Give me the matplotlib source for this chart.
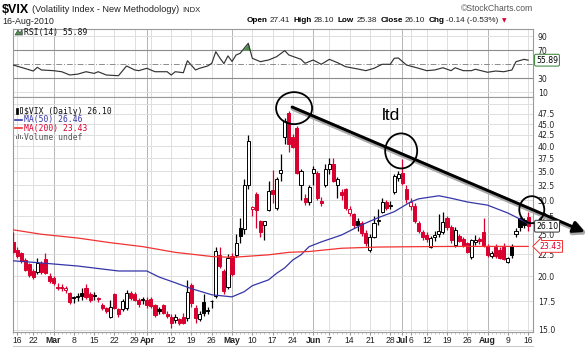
import numpy as np
import pandas as pd
import matplotlib
matplotlib.use("Agg")
import matplotlib.pyplot as plt
from matplotlib.patches import Rectangle, Ellipse, Polygon
from matplotlib.lines import Line2D
from matplotlib import transforms
import matplotlib.patheffects as pe
from matplotlib.ticker import FixedLocator, NullLocator, FixedFormatter, NullFormatter

W, H, DPI = 587, 348, 100

# ---------------- data ----------------
holidays = ["2010-02-15", "2010-04-02", "2010-05-31", "2010-07-05"]
dates = [d for d in pd.bdate_range("2010-02-12", "2010-08-16")
         if d.strftime("%Y-%m-%d") not in holidays]

opens = [24.0, 23.0, 22.6, 21.8, 21.3, 20.6, 20.4, 21.5, 21.9, 20.0,
         19.8, 18.75, 18.9, 18.6, 18.3, 17.9, 18.0, 18.3, 18.8, 18.2,
         18.1, 17.8, 17.1, 16.9, 16.1, 18.2, 16.8, 16.8, 16.9, 18.3,
         18.2, 17.6, 17.7, 17.6, 17.7, 17.1, 16.8, 17.1, 16.3, 16.1,
         15.8, 15.9, 16.1, 16.0, 19.1, 16.9, 15.9, 17.4, 16.7, 17.5,
         18.0, 22.4, 20.6, 18.9, 22.3, 22.4, 25.8, 25.7, 32.6, 28.6,
         31.0, 26.8, 26.3, 28.5, 31.6, 28.7, 34.6, 42.0, 47.7, 42.0,
         44.0, 32.5, 30.4, 29.7, 34.6, 34.6, 29.9, 32.5, 35.5, 36.4,
         32.6, 31.4, 31.9, 28.0, 27.8, 26.9, 26.6, 25.2, 23.0, 24.7,
         26.8, 28.2, 29.7, 29.3, 31.3, 33.8, 34.6, 31.9, 29.0, 29.0,
         26.6, 25.3, 24.9, 23.4, 24.6, 25.0, 25.3, 27.3, 26.0, 23.6,
         24.8, 24.4, 23.8, 22.1, 24.0, 24.4, 25.3, 23.5, 22.3, 23.4,
         23.0, 23.4, 21.6, 23.5, 25.0, 27.2, 27.0, 27.41]
highs = [25.3, 23.4, 22.8, 22.0, 21.4, 20.8, 22.0, 21.7, 22.6, 20.3,
         20.0, 19.3, 19.2, 19.0, 18.4, 18.0, 18.3, 18.8, 19.2, 18.4,
         18.4, 17.9, 17.3, 17.0, 17.6, 18.3, 16.9, 17.7, 18.6, 18.5,
         18.4, 17.8, 17.9, 17.9, 17.9, 17.2, 17.0, 17.2, 16.6, 16.3,
         16.3, 16.0, 16.4, 19.6, 19.3, 17.1, 16.6, 18.2, 17.0, 17.6,
         23.4, 23.3, 20.8, 22.5, 22.6, 25.0, 27.2, 33.5, 42.5, 29.0,
         31.4, 27.0, 26.9, 33.3, 35.3, 33.9, 38.4, 46.5, 48.2, 42.6,
         44.5, 35.5, 31.0, 32.5, 36.0, 35.0, 30.5, 36.4, 37.6, 37.6,
         34.0, 31.8, 32.0, 29.0, 28.0, 27.2, 26.9, 25.6, 25.0, 27.5,
         28.6, 30.3, 30.0, 29.8, 34.5, 35.0, 37.4, 32.5, 30.3, 29.5,
         26.9, 25.6, 25.3, 24.8, 25.4, 27.8, 28.1, 27.5, 26.3, 26.0,
         25.0, 24.6, 24.0, 24.4, 24.9, 24.6, 27.2, 23.7, 22.9, 23.7,
         23.3, 23.8, 22.2, 23.7, 25.8, 27.4, 27.3, 28.10]
lows = [22.6, 22.0, 21.5, 20.5, 19.9, 19.7, 20.2, 20.2, 20.2, 19.3,
        19.1, 18.6, 18.5, 18.3, 17.2, 17.3, 17.5, 17.6, 17.7, 17.4,
        17.6, 17.4, 16.7, 16.4, 16.0, 16.8, 16.1, 16.6, 16.7, 17.6,
        17.5, 17.0, 17.2, 16.9, 16.9, 16.1, 16.3, 16.3, 16.0, 15.2,
        15.6, 15.4, 15.5, 15.7, 17.0, 15.6, 15.7, 16.2, 16.3, 16.9,
        17.8, 20.9, 18.2, 18.7, 20.0, 22.2, 23.9, 25.0, 31.8, 27.5,
        25.8, 24.7, 24.2, 28.3, 29.6, 28.5, 33.3, 40.4, 38.7, 39.6,
        34.5, 30.0, 29.2, 29.2, 32.5, 30.0, 29.0, 32.2, 34.5, 33.0,
        30.4, 30.0, 28.5, 27.6, 25.9, 25.5, 24.8, 23.5, 22.8, 24.5,
        26.2, 28.0, 28.4, 28.6, 31.0, 33.3, 32.5, 29.5, 28.4, 26.5,
        25.2, 24.2, 24.0, 23.2, 24.1, 24.6, 25.0, 25.6, 23.9, 23.4,
        24.0, 23.3, 22.6, 21.9, 23.6, 23.7, 23.4, 22.2, 22.0, 22.0,
        21.9, 21.8, 21.4, 22.0, 24.6, 25.4, 25.8, 25.38]
closes = [22.73, 22.25, 21.7, 20.7, 20.1, 19.95, 21.4, 20.4, 20.35, 19.5,
          19.26, 18.83, 18.8, 18.72, 17.42, 17.79, 17.92, 17.95, 17.85, 17.58,
          18.0, 17.69, 16.91, 16.62, 16.97, 16.87, 16.35, 17.55, 18.3, 17.77,
          17.59, 17.2, 17.59, 17.1, 17.02, 16.23, 16.62, 16.46, 16.14, 15.58,
          16.1, 15.6, 15.55, 18.36, 17.34, 16.0, 16.32, 16.4, 16.62, 17.47,
          22.81, 21.08, 18.44, 22.05, 20.19, 23.84, 24.8, 32.6, 41.2, 28.84,
          28.4, 25.3, 26.8, 31.5, 31.0, 33.6, 35.3, 45.8, 40.4, 39.9,
          34.7, 35.0, 29.7, 32.1, 35.5, 30.3, 29.5, 35.4, 36.4, 33.3,
          33.6, 30.8, 28.8, 28.6, 26.2, 26.3, 25.2, 23.9, 24.7, 26.6,
          27.0, 29.7, 28.7, 29.0, 34.13, 34.54, 32.86, 30.12, 29.65, 26.84,
          25.5, 24.7, 24.43, 24.56, 24.9, 25.5, 26.7, 25.97, 24.2, 25.64,
          24.13, 23.5, 22.73, 24.2, 24.25, 24.13, 23.5, 22.4, 22.63, 22.21,
          22.01, 21.95, 22.0, 22.37, 25.39, 25.97, 26.24, 26.10]
prev_close_before_first = 23.96

ma50_idx = [0, 7, 16, 26, 33, 36, 40, 44, 49, 54, 57, 59, 63, 65, 67, 69,
            71, 73, 76, 81, 86, 90, 94, 98, 100, 105, 108, 112, 117, 122, 125, 127]
ma50_val = [21.7, 21.45, 21.1, 20.55, 20.55, 19.9, 19.3, 18.7, 18.1, 17.9, 18.4,
            19.0, 19.6, 20.3, 20.9, 21.8, 22.4, 23.4, 24.0, 24.9, 26.3, 27.3, 28.2,
            29.7, 30.2, 30.7, 30.3, 29.7, 29.2, 28.0, 27.1, 26.46]
ma200_idx = [0, 7, 16, 24, 32, 40, 49, 54, 63, 68, 73, 81, 90, 100, 110, 127]
ma200_val = [25.6, 25.0, 24.5, 23.9, 23.4, 22.7, 22.2, 22.1, 22.4, 22.7, 22.8,
             23.2, 23.35, 23.4, 23.43, 23.43]

rsi_idx = [0, 2, 5, 6, 7, 10, 12, 14, 16, 18, 20, 21, 23, 26, 28, 30, 31, 33, 35, 38,
           39, 40, 42, 43, 45, 46, 48, 49, 50, 51, 52, 53, 54, 55, 56, 58, 59, 61, 62,
           63, 65, 67, 68, 71, 72, 74, 76, 78, 80, 82, 85, 87, 89, 91, 93, 94, 95, 97,
           100, 102, 104, 106, 108, 109, 111, 113, 114, 117, 119, 121, 123, 124, 126, 127]
rsi_val = [49.0, 45.7, 40.4, 45.7, 41.9, 40.9, 39.4, 34.7, 36.0, 39.4, 37.0, 39.4,
           34.7, 33.7, 47.6, 41.9, 40.9, 44.3, 39.4, 39.4, 34.7, 39.4, 38.0, 55.1,
           41.9, 44.3, 47.6, 51.4, 68.0, 59.0, 51.0, 62.0, 54.0, 63.3, 65.7, 80.0,
           58.6, 53.7, 55.0, 56.1, 60.9, 69.5, 63.3, 57.1, 51.4, 56.1, 50.0, 57.1,
           52.3, 46.6, 43.3, 40.9, 44.3, 50.0, 50.0, 58.6, 59.0, 49.0, 44.3, 40.9,
           41.9, 45.1, 40.9, 45.1, 40.9, 40.9, 42.9, 38.6, 40.4, 39.4, 41.9, 53.7,
           57.1, 55.89]

tick_dates = ["2010-02-16", "2010-02-22", "2010-03-01", "2010-03-08", "2010-03-15",
              "2010-03-22", "2010-03-29", "2010-04-01", "2010-04-12", "2010-04-19",
              "2010-04-26", "2010-05-03", "2010-05-10", "2010-05-17", "2010-05-24",
              "2010-06-01", "2010-06-07", "2010-06-14", "2010-06-21", "2010-06-28",
              "2010-07-01", "2010-07-06", "2010-07-12", "2010-07-19", "2010-07-26",
              "2010-08-02", "2010-08-09", "2010-08-16"]
tick_labels = ["16", "22", "Mar", "8", "15", "22", "29", "Apr", "12", "19", "26", "May",
               "10", "17", "24", "Jun", "7", "14", "21", "28", "Jul", "6", "12", "19",
               "26", "Aug", "9", "16"]
month_names = {"Mar", "Apr", "May", "Jun", "Jul", "Aug"}

price_ticks = [15.0, 17.5, 20.0, 22.5, 25.0, 27.5, 30.0, 32.5, 35.0, 37.5, 40.0,
               42.5, 45.0, 47.5]
rsi_ticks = [10, 30, 70, 90]
rsi_lines = [10, 30, 50, 70, 90]

last_close, last_ma50, last_ma200, last_rsi = 26.10, 26.46, 23.43, 55.89
quote = [("Open", "27.41"), ("High", "28.10"), ("Low", "25.38"),
         ("Close", "26.10"), ("Chg", "-0.14 (-0.53%)")]

trend_idx = [68.8, 141.0]
trend_val = [49.3, 25.3]
circle_idx = [69.3, 95.7, 127.9]
circle_val = [49.0, 39.0, 28.5]

# ---------------- figure ----------------
RED = "#d9002f"
BLUE = "#3535a8"
MARED = "#f23232"
GRID = "#dedede"
MGRID = "#b4b4b4"
SPINE = "#9a9a9a"

def fx(x):
    return x / W

def fy(y):
    return 1 - y / H

fig = plt.figure(figsize=(W / DPI, H / DPI), dpi=DPI, facecolor="white")
ax_r = fig.add_axes([fx(13), fy(97), 520 / W, 68 / H])
ax = fig.add_axes([fx(13), fy(332), 520 / W, 235 / H])

n = len(dates)
idx = np.arange(n)
didx = {d.strftime("%Y-%m-%d"): j for j, d in enumerate(dates)}
week_starts = [j for j in range(1, n) if dates[j].weekday() < dates[j - 1].weekday()]
month_starts = [j for j in range(1, n) if dates[j].month != dates[j - 1].month]

XL = (0.0, 128.2)
for a in (ax, ax_r):
    a.set_xlim(*XL)
    for j in week_starts:
        if j not in month_starts:
            a.axvline(j, color=GRID, lw=0.7, zorder=0)
    for j in month_starts:
        a.axvline(j, color=MGRID, lw=0.7, zorder=0)
    for s in a.spines.values():
        s.set_color(SPINE)
        s.set_linewidth(0.8)

# ---- main price panel ----
ax.set_yscale("log")
ax.set_ylim(14.84, 52.0)
for v in price_ticks + [50.0]:
    ax.axhline(v, color=GRID, lw=0.7, zorder=0)

prev = [prev_close_before_first] + closes[:-1]
for j in range(n):
    o, h, l, c = opens[j], highs[j], lows[j], closes[j]
    col = RED if c < prev[j] else "black"
    hollow = c > o
    ax.vlines(j, l, h, color=col, lw=0.9, zorder=3)
    b, t = min(o, c), max(o, c)
    if t / b < 1.004:
        t = b * 1.004
    ax.add_patch(Rectangle((j - 0.38, b), 0.76, t - b,
                           facecolor="white" if hollow else col,
                           edgecolor=col, lw=0.7, zorder=4))

ax.plot(ma50_idx, ma50_val, color=BLUE, lw=0.9, zorder=5)
ax.plot(ma200_idx, ma200_val, color=MARED, lw=0.9, zorder=5)

ax.yaxis.tick_right()
ax.yaxis.set_major_locator(FixedLocator(price_ticks))
ax.yaxis.set_major_formatter(FixedFormatter(["%.1f" % v for v in price_ticks]))
ax.yaxis.set_minor_locator(NullLocator())
ax.yaxis.set_minor_formatter(NullFormatter())
ax.tick_params(axis="y", which="both", length=0, pad=3.5, labelsize=5.6,
               labelcolor="#222222")

tpos = [didx[d] for d in tick_dates]
ax.set_xticks(tpos)
ax.set_xticklabels(tick_labels, fontsize=6.2, family="Liberation Sans", color="#222222")
for lab in ax.get_xticklabels():
    if lab.get_text() in month_names:
        lab.set_fontweight("bold")
ax.set_xticks(idx, minor=True)
ax.tick_params(axis="x", which="major", length=2.0, color=SPINE, pad=0.8)
ax.tick_params(axis="x", which="minor", length=1.5, color="#bbbbbb")

# value boxes on the right
ytr = ax.get_yaxis_transform()
ax.text(1.0 + 3 / 520, last_close, "%.2f" % last_close, transform=ytr, fontsize=5.6,
        va="center", ha="left", color="black", zorder=10, clip_on=False,
        bbox=dict(boxstyle="round,pad=0.18", fc="white", ec="#333333", lw=0.7))
ax.text(1.0 + 6 / 520, last_ma200, "%.2f" % last_ma200, transform=ytr, fontsize=5.6,
        va="center", ha="left", color=RED, zorder=10, clip_on=False,
        bbox=dict(boxstyle="larrow,pad=0.18", fc="white", ec=MARED, lw=0.7))

# annotations: trend line, circles, text
arr = ax.annotate("", xy=(trend_idx[1], trend_val[1]), xytext=(trend_idx[0], trend_val[0]),
                  xycoords="data", annotation_clip=False,
                  arrowprops=dict(arrowstyle="-|>,head_length=0.7,head_width=0.35",
                                  lw=2.1, color="black", shrinkA=0, shrinkB=0,
                                  mutation_scale=10))
arr.arrow_patch.set_path_effects([pe.Stroke(offset=(0.6, -1.1), linewidth=3.4,
                                            foreground="#a8a8a8"), pe.Normal()])
arr.set_zorder(8)

circle_w = [36, 32, 25]
circle_h = [32, 35, 27]
for ci, cv, cw, ch in zip(circle_idx, circle_val, circle_w, circle_h):
    tr = transforms.IdentityTransform() + transforms.ScaledTranslation(ci, cv, ax.transData)
    e = Ellipse((0, 0), cw, ch, transform=tr, fill=False, ec="black", lw=1.3, zorder=9)
    ax.add_artist(e)
    e.set_clip_on(False)

ax.text(93.2, 47.0, "ltd", fontsize=12.5, family="Liberation Sans", ha="center",
        va="center", color="black", zorder=9)

# ---- RSI panel ----
ax_r.set_ylim(3.3, 100.4)
ax_r.axhline(rsi_lines[0], color=GRID, lw=0.7, zorder=0)
ax_r.axhline(rsi_lines[4], color=GRID, lw=0.7, zorder=0)
ax_r.axhline(rsi_lines[1], color="#8c8c8c", lw=0.8, zorder=1)
ax_r.axhline(rsi_lines[3], color="#8c8c8c", lw=0.8, zorder=1)
ax_r.axhline(rsi_lines[2], color="#8c8c8c", lw=0.7, ls=(0, (6, 2, 1, 2)), zorder=1)
rx = np.array(rsi_idx, dtype=float)
ry = np.array(rsi_val)
ax_r.fill_between(rx, ry, 70, where=ry > 70, interpolate=True, color="#4f8f4f",
                  lw=0, zorder=2)
ax_r.plot(rx, ry, color="#333333", lw=0.85, zorder=3)
ax_r.yaxis.tick_right()
ax_r.set_yticks(rsi_ticks)
ax_r.set_yticklabels([str(v) for v in rsi_ticks])
ax_r.tick_params(axis="y", length=0, pad=3.5, labelsize=5.6, labelcolor="#222222")
ax_r.set_xticks([])
ax_r.text(1.0 + 3 / 520, last_rsi, "%.2f" % last_rsi, transform=ax_r.get_yaxis_transform(),
          fontsize=5.6, va="center", ha="left", color="black", zorder=10, clip_on=False,
          bbox=dict(boxstyle="round,pad=0.18", fc="white", ec="#2e7d2e", lw=0.7))

# ---------------- header texts ----------------
fig.canvas.draw()
rend = fig.canvas.get_renderer()

def seq(x_px, y_px, pieces):
    x = x_px
    for s, kw, gap in pieces:
        t = fig.text(fx(x), fy(y_px), s, va="center", ha="left", **kw)
        bb = t.get_window_extent(renderer=rend)
        x = bb.x1 + gap
    return x

HF = "Liberation Sans"
seq(2, 10, [("$VIX", dict(fontsize=9, fontweight="bold", family=HF), 3),
            ("(Volatility Index - New Methodology)", dict(fontsize=6.6, family=HF, color="#222"), 3),
            ("INDX", dict(fontsize=5.5, family=HF, color="#222"), 0)])
fig.text(fx(2), fy(21), "16-Aug-2010", fontsize=6.4, family=HF, va="center", ha="left",
         color="#222")
fig.text(fx(533), fy(8.5), "\u00a9StockCharts.com", fontsize=6.2, family=HF, va="center",
         ha="right", color="#555555")
pieces = []
for lab, val in quote:
    pieces.append((lab, dict(fontsize=5.9, fontweight="bold", family=HF), 2))
    pieces.append((val, dict(fontsize=5.9, family=HF, color="#222"), 3.5))
pieces.append(("\u25bc", dict(fontsize=4.2, family="DejaVu Sans", color=RED), 0))
seq(247, 20.5, pieces)

# legends
LF = "DejaVu Sans Mono"
fig.text(fx(24), fy(32.5), "RSI(14) %.2f" % last_rsi, fontsize=5.8, family=LF,
         va="center", ha="left", color="#111")
fig.add_artist(Polygon([[fx(15), fy(35)], [fx(18), fy(30)], [fx(20), fy(33)],
                        [fx(22), fy(29.5)], [fx(22.5), fy(35)]], closed=True,
                       fc="#4f8f4f", ec="#333", lw=0.4, transform=fig.transFigure))
fig.text(fx(23.5), fy(111), "$VIX (Daily) %.2f" % last_close, fontsize=5.8, family=LF,
         va="center", ha="left", color="#111")
for xx, yy0, yy1, fc in [(16, 108, 114, "black"), (19.5, 107, 113, "white")]:
    fig.add_artist(Rectangle((fx(xx), fy(yy1)), 2 / W, (yy1 - yy0) / H, fc=fc,
                             ec="black", lw=0.5, transform=fig.transFigure))
fig.add_artist(Line2D([fx(15), fx(22)], [fy(119.5)] * 2, color=BLUE, lw=1.2,
                      transform=fig.transFigure))
fig.text(fx(23.5), fy(119.5), "MA(50) %.2f" % last_ma50, fontsize=5.8, family=LF,
         va="center", ha="left", color=BLUE)
fig.add_artist(Line2D([fx(15), fx(22)], [fy(128)] * 2, color=MARED, lw=1.2,
                      transform=fig.transFigure))
fig.text(fx(23.5), fy(128), "MA(200) %.2f" % last_ma200, fontsize=5.8, family=LF,
         va="center", ha="left", color=RED)
for xx, hh in [(15.5, 3), (17.5, 5), (19.5, 4), (21.5, 2)]:
    fig.add_artist(Rectangle((fx(xx), fy(139)), 1.3 / W, hh / H, fc="#777777",
                             ec="none", transform=fig.transFigure))
fig.text(fx(23.5), fy(137), "Volume undef", fontsize=5.8, family=LF, va="center",
         ha="left", color="#555555")

fig.add_artist(Line2D([fx(13), fx(533)], [fy(346)] * 2, color="#cccccc", lw=0.8,
                      transform=fig.transFigure))

fig.savefig("out.png", dpi=DPI, facecolor="white")
